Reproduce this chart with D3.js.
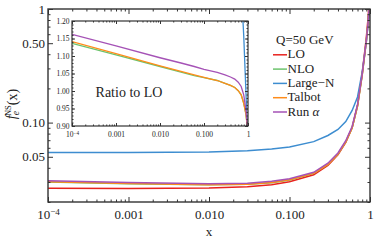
<!DOCTYPE html>
<html lang="en">
<head>
    <meta charset="UTF-8">
    <title>Non-singlet electron PDF</title>
    <script src="https://d3js.org/d3.v7.min.js"></script>
    <style>
        body { margin: 0; background: #fff; }
        svg text { font-family: "Liberation Serif", "DejaVu Serif", serif; fill: #222; }
        .axis path { display: none; }
        .axis line { stroke: #333; }
    </style>
</head>
<body>
    <svg id="chart" width="374" height="247"></svg>
    <script>
        // sample points in x
        const xs = [1e-4, 1e-3, 0.01, 0.03, 0.06, 0.1, 0.2, 0.3, 0.4, 0.5, 0.6, 0.7, 0.8, 0.9, 0.95, 0.99];

        // main panel: f_e^NS(x)
        const lo       = [0.0264, 0.0263, 0.0265, 0.0272, 0.0284, 0.0302, 0.0347, 0.0420, 0.052, 0.067, 0.090, 0.142, 0.27, 0.56, 0.86, 1.4];
        const nlo      = [0.0300, 0.0290, 0.0284, 0.0287, 0.0296, 0.0313, 0.0357, 0.0429, 0.0528, 0.0677, 0.0901, 0.140, 0.261, 0.522, 0.778, 1.2];
        const largeN   = [0.0545, 0.0546, 0.0550, 0.0565, 0.0585, 0.061, 0.068, 0.077, 0.087, 0.102, 0.128, 0.168, 0.279, 0.51, 0.75, 1.2];
        const talbot   = [0.0301, 0.0291, 0.0284, 0.0287, 0.0297, 0.0314, 0.0357, 0.0429, 0.0528, 0.0677, 0.0901, 0.140, 0.261, 0.522, 0.778, 1.2];
        const runAlpha = [0.0307, 0.0297, 0.0290, 0.0293, 0.0304, 0.0321, 0.0365, 0.0439, 0.0541, 0.0693, 0.0923, 0.1438, 0.267, 0.529, 0.783, 1.19];

        // inset: ratio to LO
        const rNlo      = [1.136, 1.103, 1.070, 1.054, 1.044, 1.038, 1.030, 1.022, 1.016, 1.010, 1.001, 0.989, 0.965, 0.933, 0.905, 0.86];
        const rLargeN   = [2.06, 2.07, 2.07, 2.07, 2.06, 2.02, 1.96, 1.83, 1.67, 1.52, 1.42, 1.30, 1.157, 0.993, 0.91, 0.86];
        const rTalbot   = [1.141, 1.107, 1.072, 1.056, 1.046, 1.039, 1.030, 1.022, 1.016, 1.010, 1.001, 0.989, 0.965, 0.933, 0.905, 0.86];
        const rRunAlpha = [1.162, 1.129, 1.095, 1.080, 1.070, 1.062, 1.053, 1.046, 1.040, 1.034, 1.025, 1.013, 0.989, 0.945, 0.91, 0.85];

        const seriesNames = ["LO", "NLO", "Large\u2212N", "Talbot", "Run \u03b1"];
        const colors = ["#e8221e", "#6cc36c", "#3d8dd0", "#ff8c1a", "#a552b6"];

        const xMajor = [1e-4, 1e-3, 1e-2, 1e-1, 1];
        const xLabels = ["10^-4", "0.001", "0.010", "0.100", "1"];
        const yMajor = [0.05, 0.1, 0.5, 1];
        const yLabels = ["0.05", "0.10", "0.50", "1"];
        const insetYMajor = [0.90, 0.95, 1.00, 1.05, 1.10, 1.15, 1.20];
        const insetYLabels = ["0.90", "0.95", "1.00", "1.05", "1.10", "1.15", "1.20"];

        const svg = d3.select("#chart");

        // log-minor ticks 2..9 per decade
        const xMinor = [];
        for (let k = -4; k < 0; k++) for (let m = 2; m <= 9; m++) xMinor.push(m * Math.pow(10, k));
        const yMinor = [0.02, 0.03, 0.04, 0.06, 0.07, 0.08, 0.09, 0.2, 0.3, 0.4, 0.6, 0.7, 0.8, 0.9];
        const insetYMinor = d3.range(90, 121).map(d => d / 100);

        function fmtLabel(sel, values, labels) {
            sel.selectAll(".tick text").each(function (d) {
                const lab = labels[values.indexOf(d)];
                const t = d3.select(this);
                if (lab && lab.startsWith("10^")) {
                    t.text("10");
                    t.append("tspan").attr("dy", "-0.45em").style("font-size", "0.7em").text(lab.slice(3).replace("-", "\u2212"));
                } else {
                    t.text(lab);
                }
            });
        }

        function panel(g, x, y, xMaj, xLab, yMaj, yLab, yMin, opts) {
            const [x0, x1] = x.range();
            const [y0, y1] = y.range();
            g.append("g").attr("class", "axis").attr("transform", `translate(0,${y0})`)
                .call(d3.axisBottom(x).tickValues(xMinor).tickSize(-opts.minor).tickFormat(""));
            g.append("g").attr("class", "axis").attr("transform", `translate(0,${y1})`)
                .call(d3.axisTop(x).tickValues(xMinor).tickSize(-opts.minor).tickFormat(""));
            g.append("g").attr("class", "axis").attr("transform", `translate(0,${y1})`)
                .call(d3.axisTop(x).tickValues(xMaj).tickSize(-opts.major).tickFormat(""));
            const bx = g.append("g").attr("class", "axis").attr("transform", `translate(0,${y0})`)
                .call(d3.axisBottom(x).tickValues(xMaj).tickSize(-opts.major).tickPadding(opts.xPad));
            bx.selectAll("text").style("font-size", opts.font + "px");
            fmtLabel(bx, xMaj, xLab);

            g.append("g").attr("class", "axis").attr("transform", `translate(${x0},0)`)
                .call(d3.axisLeft(y).tickValues(yMin).tickSize(-opts.minor).tickFormat(""));
            g.append("g").attr("class", "axis").attr("transform", `translate(${x1},0)`)
                .call(d3.axisRight(y).tickValues(yMin).tickSize(-opts.minor).tickFormat(""));
            g.append("g").attr("class", "axis").attr("transform", `translate(${x1},0)`)
                .call(d3.axisRight(y).tickValues(yMaj).tickSize(-opts.major).tickFormat(""));
            const ly = g.append("g").attr("class", "axis").attr("transform", `translate(${x0},0)`)
                .call(d3.axisLeft(y).tickValues(yMaj).tickSize(-opts.major).tickPadding(opts.yPad));
            ly.selectAll("text").style("font-size", opts.font + "px");
            fmtLabel(ly, yMaj, yLab);

            g.append("rect")
                .attr("x", x0).attr("y", y1)
                .attr("width", x1 - x0).attr("height", y0 - y1)
                .attr("fill", "none").attr("stroke", "#333").attr("stroke-width", opts.frame);
        }

        // ---- main panel ----
        const x = d3.scaleLog().domain([1e-4, 1]).range([48, 370]);
        const y = d3.scaleLog().domain([0.02, 1]).range([202, 9]);

        svg.append("clipPath").attr("id", "clipMain").append("rect")
            .attr("x", 48).attr("y", 9).attr("width", 322).attr("height", 193);

        const mainSeries = [lo, nlo, largeN, talbot, runAlpha];
        const line = d3.line().x((d, i) => x(xs[i])).y(d => y(d));
        svg.append("g").attr("clip-path", "url(#clipMain)")
            .selectAll("path").data(mainSeries).enter().append("path")
            .attr("d", line)
            .attr("fill", "none")
            .attr("stroke", (d, i) => colors[i])
            .attr("stroke-width", 1.5);

        panel(svg.append("g"), x, y, xMajor, xLabels, yMajor, yLabels, yMinor,
            { major: 5, minor: 2.5, font: 13, xPad: 8, yPad: 3, frame: 1.4 });

        svg.append("text").attr("x", 209).attr("y", 236).attr("text-anchor", "middle")
            .style("font-size", "13px").text("x");

        const yl = svg.append("text")
            .attr("transform", "translate(16,104) rotate(-90)")
            .attr("text-anchor", "middle")
            .style("font-size", "14px");
        yl.append("tspan").style("font-style", "italic").text("f");
        yl.append("tspan").attr("dy", "0.3em").style("font-size", "9.5px").style("font-style", "italic").text("e");
        yl.append("tspan").attr("dx", "-5").attr("dy", "-0.95em").style("font-size", "8.5px").text("NS");
        yl.append("tspan").attr("dy", "0.45em").text("(x)");

        // legend
        const legend = svg.append("g").attr("transform", "translate(273,0)");
        legend.append("text").attr("x", 3).attr("y", 44).style("font-size", "13px").text("Q=50 GeV");
        seriesNames.forEach((name, i) => {
            const by = 58.3 + i * 14.3;
            legend.append("line").attr("x1", 0).attr("x2", 14).attr("y1", by - 3.5).attr("y2", by - 3.5)
                .attr("stroke", colors[i]).attr("stroke-width", 1.5);
            const t = legend.append("text").attr("x", 14.5).attr("y", by).style("font-size", "13px");
            if (name.startsWith("Run")) {
                t.text("Run ");
                t.append("tspan").style("font-style", "italic").text("\u03b1");
            } else {
                t.text(name);
            }
        });

        // ---- inset ----
        const xi = d3.scaleLog().domain([1e-4, 1]).range([72, 248]);
        const yi = d3.scaleLinear().domain([0.9, 1.2]).range([126, 21]);
        const inset = svg.append("g");
        inset.append("rect").attr("x", 72).attr("y", 21).attr("width", 176).attr("height", 105).attr("fill", "#fff");
        svg.append("clipPath").attr("id", "clipInset").append("rect")
            .attr("x", 72).attr("y", 21).attr("width", 176).attr("height", 105);

        const ratioSeries = [
            { v: rNlo, c: colors[1] },
            { v: rLargeN, c: colors[2] },
            { v: rTalbot, c: colors[3] },
            { v: rRunAlpha, c: colors[4] }
        ];
        const iline = d3.line().x((d, i) => xi(xs[i])).y(d => yi(d));
        inset.append("g").attr("clip-path", "url(#clipInset)")
            .selectAll("path").data(ratioSeries).enter().append("path")
            .attr("d", d => iline(d.v))
            .attr("fill", "none")
            .attr("stroke", d => d.c)
            .attr("stroke-width", 1.3);

        panel(inset, xi, yi, xMajor, xLabels, insetYMajor, insetYLabels, insetYMinor,
            { major: 3, minor: 1.5, font: 7.5, xPad: 6, yPad: 2.5, frame: 1.2 });

        inset.append("text").attr("x", 129).attr("y", 97).attr("text-anchor", "middle")
            .style("font-size", "14px").text("Ratio to LO");
    </script>
</body>
</html>
